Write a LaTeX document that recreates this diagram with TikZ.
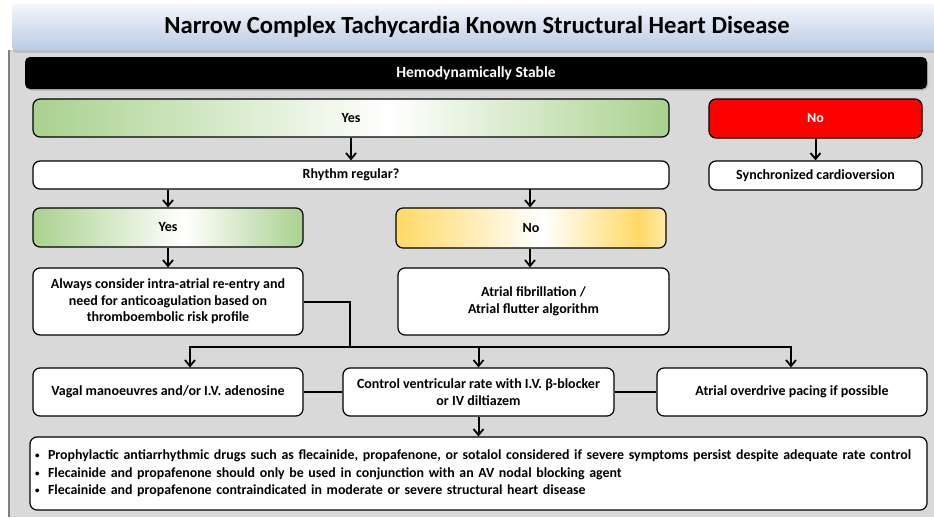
\documentclass[tikz,border=0pt]{standalone}
\usepackage{fontspec}
\setmainfont{Carlito}
\usetikzlibrary{arrows.meta,shadows}

\definecolor{panelgray}{HTML}{D9D9D9}
\definecolor{paneledge}{HTML}{808080}
\definecolor{bannertop}{HTML}{F4F7FB}
\definecolor{bannerbot}{HTML}{B9CBE4}
\definecolor{yesgreen}{HTML}{A9D18E}
\definecolor{noyellow}{HTML}{FFD966}
\definecolor{noyellowlt}{HTML}{FFE9A6}
\definecolor{alarmred}{HTML}{FF0000}

% green: edges to white centre
\pgfdeclarehorizontalshading{greenfade}{100bp}{%
  color(0bp)=(yesgreen); color(25bp)=(yesgreen);
  color(53bp)=(white); color(75bp)=(yesgreen); color(100bp)=(yesgreen)}
% yellow: edge, white, yellow band, lighter edge
\pgfdeclarehorizontalshading{yellowfade}{100bp}{%
  color(0bp)=(noyellow); color(25bp)=(noyellow);
  color(52bp)=(white); color(70bp)=(noyellow);
  color(75bp)=(noyellowlt); color(100bp)=(noyellowlt)}

\newcommand{\notebullet}{\makebox[13pt][l]{\raisebox{1pt}{\fontsize{9}{9}\selectfont•}}}

\tikzset{
  box/.style={draw=black, line width=1.2pt, rounded corners=7pt, fill=white,
    inner sep=2pt, align=center, font=\fontsize{14}{16.5}\selectfont\bfseries},
  greenbox/.style={box, shading=greenfade},
  yellowbox/.style={box, shading=yellowfade},
  redbox/.style={box, fill=alarmred, text=white},
  wire/.style={line width=2pt, draw=black},
  flow/.style={wire, -{Straight Barb[length=6pt,width=10pt,line width=1.8pt]}},
}

\begin{document}
\begin{tikzpicture}[x=1pt,y=-1pt]
\useasboundingbox (0,0) rectangle (934,517);
\fill[white] (0,0) rectangle (934,517);

% grey working area
\fill[panelgray] (8,50) rectangle (934,517);
\draw[paneledge, line width=1.5pt] (8.75,50) -- (8.75,517);

% title banner
\node[rounded corners=3pt, top color=bannertop, bottom color=bannerbot,
      minimum width=929pt, minimum height=47pt, inner sep=0pt,
      drop shadow={opacity=0.35, shadow xshift=0pt, shadow yshift=-2pt},
      font=\fontsize{24.6}{28}\selectfont\bfseries]
  (title) at (477,27) {Narrow Complex Tachycardia Known Structural Heart Disease};

% stability header bar
\node[fill=black, rounded corners=5pt, minimum width=902pt, minimum height=32pt,
      inner sep=0pt, text=white, font=\fontsize{15.5}{18}\selectfont\bfseries,
      drop shadow={opacity=0.4, shadow xshift=1pt, shadow yshift=-1.5pt}]
  (stable) at (476,73) {Hemodynamically Stable};

% first decision level
\node[greenbox, minimum width=636pt, minimum height=38pt] (yesA) at (351,118) {Yes};
\node[redbox, minimum width=213pt, minimum height=39pt] (noA) at (815.5,118.5) {No};
\node[box, minimum width=636pt, minimum height=28pt] (rhythm) at (351,175) {Rhythm regular?};
\node[box, minimum width=213pt, minimum height=29pt] (sync) at (815.5,175.5) {Synchronized cardioversion};

% rhythm branches
\node[greenbox, minimum width=270pt, minimum height=39pt] (yesB) at (168,227.5) {Yes};
\node[yellowbox, minimum width=270pt, minimum height=40pt] (noB) at (531,228) {No};
\node[box, minimum width=270pt, minimum height=67pt] (always) at (168,301.5)
  {Always consider intra-atrial re-entry and\\need for anticoagulation based on\\thromboembolic risk profile};
\node[box, minimum width=271pt, minimum height=67pt] (afl) at (533.5,301.5)
  {Atrial fibrillation /\\Atrial flutter algorithm};

% treatment options
\node[box, minimum width=270pt, minimum height=48pt] (vagal) at (168,392)
  {Vagal manoeuvres and/or I.V. adenosine};
\node[box, minimum width=271pt, minimum height=48pt] (control) at (478.5,392)
  {Control ventricular rate with I.V. β-blocker\\or IV diltiazem};
\node[box, minimum width=270pt, minimum height=48pt] (pacing) at (792,392)
  {Atrial overdrive pacing if possible};

% notes
\node[box, minimum width=897pt, minimum height=73pt, text width=887pt, align=left,
      inner xsep=5pt, font=\fontsize{13.9}{17.5}\selectfont\bfseries] (notes) at (478.5,473.5)
  {\notebullet Prophylactic antiarrhythmic drugs such as flecainide, propafenone, or sotalol considered if severe symptoms persist despite adequate rate control\\
   \notebullet Flecainide and propafenone should only be used in conjunction with an AV nodal blocking agent\\
   \notebullet Flecainide and propafenone contraindicated in moderate or severe structural heart disease};

% connectors
\draw[flow] (yesA.south) -- (rhythm.north);
\draw[flow] (noA.south) -- (sync.north);
\draw[flow] (yesB.north |- rhythm.south) -- (yesB.north);
\coordinate (noTop) at (530,189);
\draw[flow] (noTop) -- (noTop |- noB.north);
\draw[flow] (yesB.south) -- (always.north);
\draw[flow] (noTop |- noB.south) -- (noTop |- afl.north);

\coordinate (bus) at (350,347);
\coordinate (busL) at (190,347);
\coordinate (busR) at (791,347);
\draw[wire] (always.east) -| (bus);
\draw[wire, line cap=rect] (busL) -- (busR);
\draw[flow] (busL) -- (busL |- vagal.north);
\draw[flow] (control.north |- bus) -- (control.north);
\draw[flow] (busR) -- (busR |- pacing.north);

\draw[wire] (vagal.east) -- (control.west);
\draw[wire] (control.east) -- (pacing.west);
\draw[flow] (control.south) -- (notes.north);
\end{tikzpicture}
\end{document}
